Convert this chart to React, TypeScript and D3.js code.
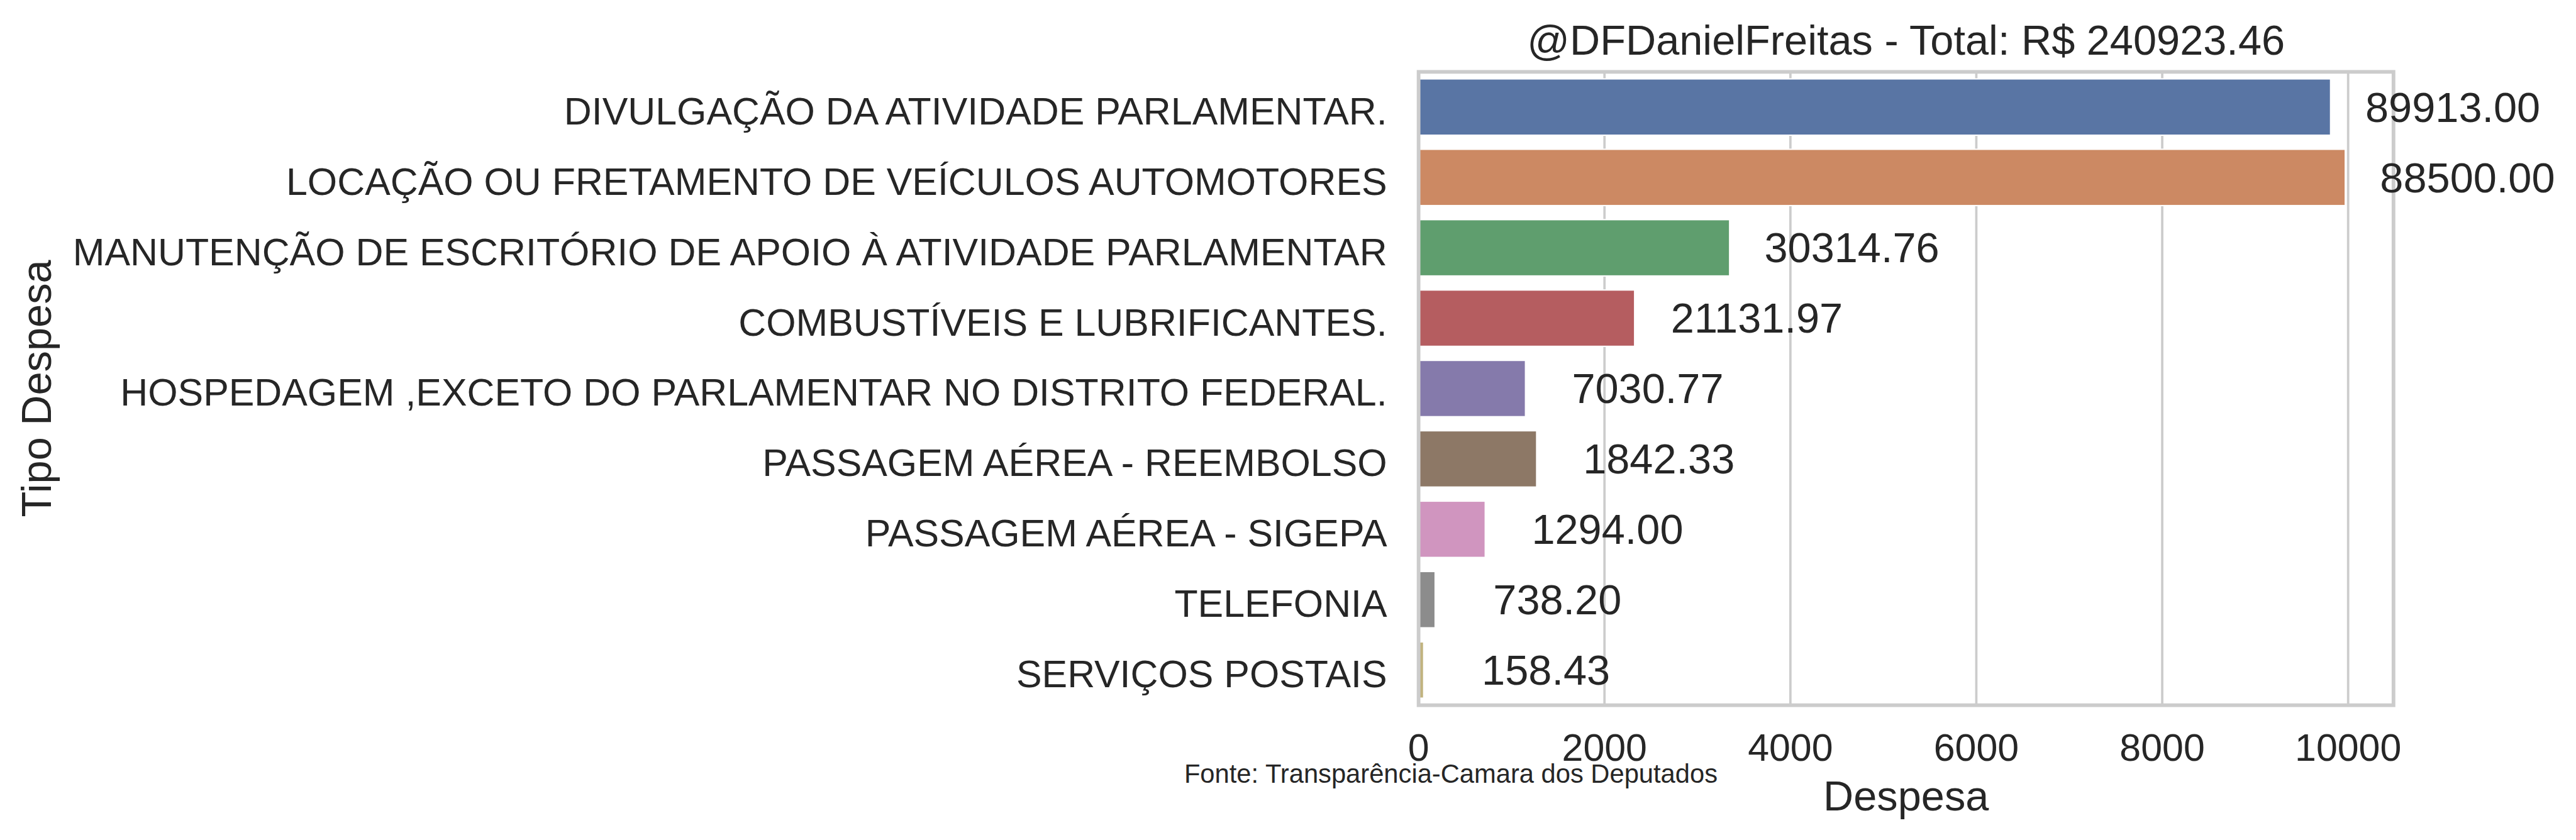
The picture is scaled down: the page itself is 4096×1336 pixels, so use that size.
import * as d3 from 'd3'

// categories, bar lengths (as drawn) and the totals printed next to each bar
const categories = [
  'DIVULGAÇÃO DA ATIVIDADE PARLAMENTAR.',
  'LOCAÇÃO OU FRETAMENTO DE VEÍCULOS AUTOMOTORES',
  'MANUTENÇÃO DE ESCRITÓRIO DE APOIO À ATIVIDADE PARLAMENTAR',
  'COMBUSTÍVEIS E LUBRIFICANTES.',
  'HOSPEDAGEM ,EXCETO DO PARLAMENTAR NO DISTRITO FEDERAL.',
  'PASSAGEM AÉREA - REEMBOLSO',
  'PASSAGEM AÉREA - SIGEPA',
  'TELEFONIA',
  'SERVIÇOS POSTAIS',
]
const barValues = [9811, 9969, 3346, 2324, 1150, 1270, 717, 178, 55]
const totals = [89913.0, 88500.0, 30314.76, 21131.97, 7030.77, 1842.33, 1294.0, 738.2, 158.43]
const colors = ['#5975a4', '#cc8963', '#5f9e6e', '#b55d60', '#857aab', '#8d7866', '#d095bf', '#8c8c8c', '#c1b37f']
const xTicks = [0, 2000, 4000, 6000, 8000, 10000]

const title = '@DFDanielFreitas - Total: R$ 240923.46'
const xLabel = 'Despesa'
const yLabel = 'Tipo Despesa'
const source = 'Fonte: Transparência-Camara dos Deputados'

// drawn in the reference's own pixel space, scaled down by the viewBox
const W = 4912
const H = 1602
const margin = { top: 137, right: 348, bottom: 257, left: 2705 }
const font = "'Liberation Sans', Arial, Helvetica, sans-serif"
const ink = '#262626'

export default function App() {
  const x = d3.scaleLinear().domain([0, 10488]).range([margin.left, W - margin.right])
  const y = d3
    .scaleBand<string>()
    .domain(categories)
    .range([margin.top, H - margin.bottom])
    .paddingInner(0.2)
    .paddingOuter(0.1)
  const x0 = margin.left
  const x1 = W - margin.right
  const y0 = margin.top
  const y1 = H - margin.bottom
  const labelShift = 1315 // label centre sits this far past the bar end, in data units

  return (
    <svg
      width={4096}
      height={1336}
      viewBox={`0 0 ${W} ${H}`}
      style={{ position: 'absolute', left: 0, top: 0, background: '#fff' }}
      fontFamily={font}
    >
      <rect x={0} y={0} width={W} height={H} fill="#fff" />

      {/* grid */}
      {xTicks.map((t) => (
        <line key={t} x1={x(t)} x2={x(t)} y1={y0} y2={y1} stroke="#cccccc" strokeWidth={4.5} />
      ))}

      {/* bars */}
      {categories.map((c, i) => (
        <rect
          key={c}
          x={x(0)}
          y={y(c)!}
          width={x(barValues[i]) - x(0)}
          height={y.bandwidth()}
          fill={colors[i]}
          stroke="#fff"
          strokeWidth={2.5}
        />
      ))}

      {/* spines */}
      <rect x={x0} y={y0} width={x1 - x0} height={y1 - y0} fill="none" stroke="#cccccc" strokeWidth={7} />

      {/* value labels */}
      {categories.map((c, i) => (
        <text
          key={c}
          x={x(barValues[i] + labelShift)}
          y={y(c)! + y.bandwidth() / 2 + 28}
          textAnchor="middle"
          fontSize={80}
          fill={ink}
        >
          {totals[i].toFixed(2)}
        </text>
      ))}

      {/* y tick labels */}
      {categories.map((c) => (
        <text key={c} x={2645} y={y(c)! + y.bandwidth() / 2 + 33} textAnchor="end" fontSize={73} fill={ink}>
          {c}
        </text>
      ))}

      {/* x tick labels */}
      {xTicks.map((t) => (
        <text key={t} x={x(t)} y={1451} textAnchor="middle" fontSize={73} fill={ink}>
          {t}
        </text>
      ))}

      <text x={(x0 + x1) / 2} y={1546} textAnchor="middle" fontSize={80} fill={ink}>
        {xLabel}
      </text>
      <text
        transform={`translate(97, ${(y0 + y1) / 2}) rotate(-90)`}
        textAnchor="middle"
        fontSize={80}
        fill={ink}
      >
        {yLabel}
      </text>
      <text x={(x0 + x1) / 2} y={104} textAnchor="middle" fontSize={80} fill={ink}>
        {title}
      </text>
      <text x={2258} y={1493} fontSize={50} fill={ink}>
        {source}
      </text>
    </svg>
  )
}
